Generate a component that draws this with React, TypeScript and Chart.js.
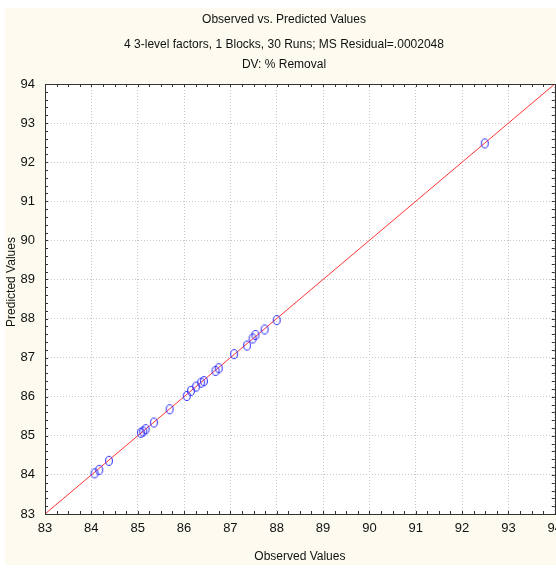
import React, { useEffect, useRef } from "react";
import { Chart, registerables } from "chart.js";

Chart.register(...registerables);

const observed = [84.07, 84.17, 84.38, 85.07, 85.12, 85.17, 85.35, 85.69, 86.06, 86.15, 86.26, 86.37, 86.43, 86.68, 86.75, 87.08, 87.36, 87.48, 87.54, 87.74, 88.0, 92.49];
const predicted = [84.04, 84.13, 84.36, 85.08, 85.11, 85.17, 85.34, 85.68, 86.02, 86.15, 86.26, 86.36, 86.4, 86.66, 86.73, 87.09, 87.31, 87.49, 87.58, 87.72, 87.96, 92.48];
const fitLine = [83, 94];
const axisMin = 83;
const axisMax = 94;
const titleText = "Observed vs. Predicted Values";
const subtitleLines = ["4 3-level factors, 1 Blocks, 30 Runs; MS Residual=.0002048", "DV: % Removal"];
const xTitle = "Observed Values";
const yTitle = "Predicted Values";

const FONT = "'Liberation Sans', Arial, sans-serif";
const CANVAS_W = 569;

export default function App() {
  const ref = useRef<HTMLCanvasElement | null>(null);
  useEffect(() => {
    if (!ref.current) return;
    const marker = document.createElement("canvas");
    marker.width = 10;
    marker.height = 12;
    const mctx = marker.getContext("2d")!;
    mctx.strokeStyle = "#2a2aff";
    mctx.lineWidth = 1;
    mctx.beginPath();
    mctx.ellipse(5, 6, 3.4, 4.5, 0, 0, Math.PI * 2);
    mctx.stroke();

    const bgPlugin = {
      id: "bg",
      beforeDraw(chart: any) {
        const { ctx, chartArea } = chart;
        ctx.save();
        ctx.fillStyle = "#ffffff";
        ctx.fillRect(0, 0, chart.width, chart.height);
        ctx.fillStyle = "#fdfaf0";
        ctx.fillRect(5, 8, 551, 557);
        ctx.fillStyle = "#ffffff";
        ctx.fillRect(chartArea.left, chartArea.top, chartArea.right - chartArea.left, chartArea.bottom - chartArea.top);
        ctx.restore();
      },
      afterDraw(chart: any) {
        const { ctx, chartArea } = chart;
        const xs = chart.scales.x;
        const ys = chart.scales.y;
        ctx.save();
        ctx.strokeStyle = "#333333";
        ctx.lineWidth = 1;
        ctx.setLineDash([]);
        ctx.strokeRect(Math.round(chartArea.left) + 0.5, Math.round(chartArea.top) + 0.5, Math.round(chartArea.right - chartArea.left), Math.round(chartArea.bottom - chartArea.top));
        ctx.beginPath();
        for (let i = 0; i <= (axisMax - axisMin) * 4; i++) {
          const px = Math.round(xs.getPixelForValue(axisMin + i * 0.25)) + 0.5;
          ctx.moveTo(px, chartArea.bottom);
          ctx.lineTo(px, chartArea.bottom - 3);
          ctx.moveTo(px, chartArea.top);
          ctx.lineTo(px, chartArea.top + 3);
        }
        for (let i = 0; i <= (axisMax - axisMin) * 5; i++) {
          const py = Math.round(ys.getPixelForValue(axisMin + i * 0.2)) + 0.5;
          ctx.moveTo(chartArea.left, py);
          ctx.lineTo(chartArea.left + 3, py);
          ctx.moveTo(chartArea.right, py);
          ctx.lineTo(chartArea.right - 3, py);
        }
        ctx.stroke();
        ctx.translate(11.5, 282);
        ctx.rotate(-Math.PI / 2);
        ctx.fillStyle = "#111111";
        ctx.font = `12px ${FONT}`;
        ctx.textAlign = "center";
        ctx.textBaseline = "middle";
        ctx.fillText(yTitle, 0, 0);
        ctx.restore();
      },
    };

    const chart = new Chart(ref.current, {
      type: "scatter",
      data: {
        datasets: [
          {
            type: "scatter",
            data: observed.map((x, i) => ({ x, y: predicted[i] })),
            pointStyle: marker as any,
            pointRadius: 5,
          },
          {
            type: "line",
            data: fitLine.map((v) => ({ x: v, y: v })),
            borderColor: "#ff3535",
            borderWidth: 1,
            pointRadius: 0,
            fill: false,
          },
        ],
      },
      options: {
        responsive: false,
        animation: false,
        layout: { padding: { left: 0, right: 1, top: 0, bottom: 0 } },
        plugins: {
          legend: { display: false },
          tooltip: { enabled: false },
          title: {
            display: true,
            text: titleText,
            color: "#111111",
            font: { family: FONT, size: 12, weight: "normal", lineHeight: 1.2 },
            padding: { top: 12, bottom: 0 },
          },
          subtitle: {
            display: true,
            text: subtitleLines,
            color: "#111111",
            font: { family: FONT, size: 12, weight: "normal", lineHeight: 1.667 },
            padding: { top: 8.6, bottom: 9 },
          },
        },
        scales: {
          x: {
            type: "linear",
            min: axisMin,
            max: axisMax,
            ticks: { stepSize: 1, color: "#111111", font: { family: FONT, size: 13 }, padding: 7, maxRotation: 0 },
            grid: { color: "#c8c8c8", drawTicks: false },
            border: { display: false, dash: [1, 2] },
            title: { display: true, text: xTitle, color: "#111111", font: { family: FONT, size: 12 }, padding: { top: 0, bottom: 5.8 } },
            afterFit(scale: any) {
              scale.height = 56;
            },
          },
          y: {
            type: "linear",
            min: axisMin,
            max: axisMax,
            ticks: { stepSize: 1, color: "#111111", font: { family: FONT, size: 13 }, padding: 10 },
            grid: { color: "#c8c8c8", drawTicks: false },
            border: { display: false, dash: [1, 2] },
            afterFit(scale: any) {
              scale.width = 45;
            },
          },
        },
      },
      plugins: [bgPlugin],
    } as any);
    return () => chart.destroy();
  }, []);
  return (
    <div style={{ position: "absolute", left: 0, top: 0, width: 556, height: 570, overflow: "hidden" }}>
      <canvas ref={ref} width={CANVAS_W} height={570} style={{ display: "block" }} />
    </div>
  );
}
